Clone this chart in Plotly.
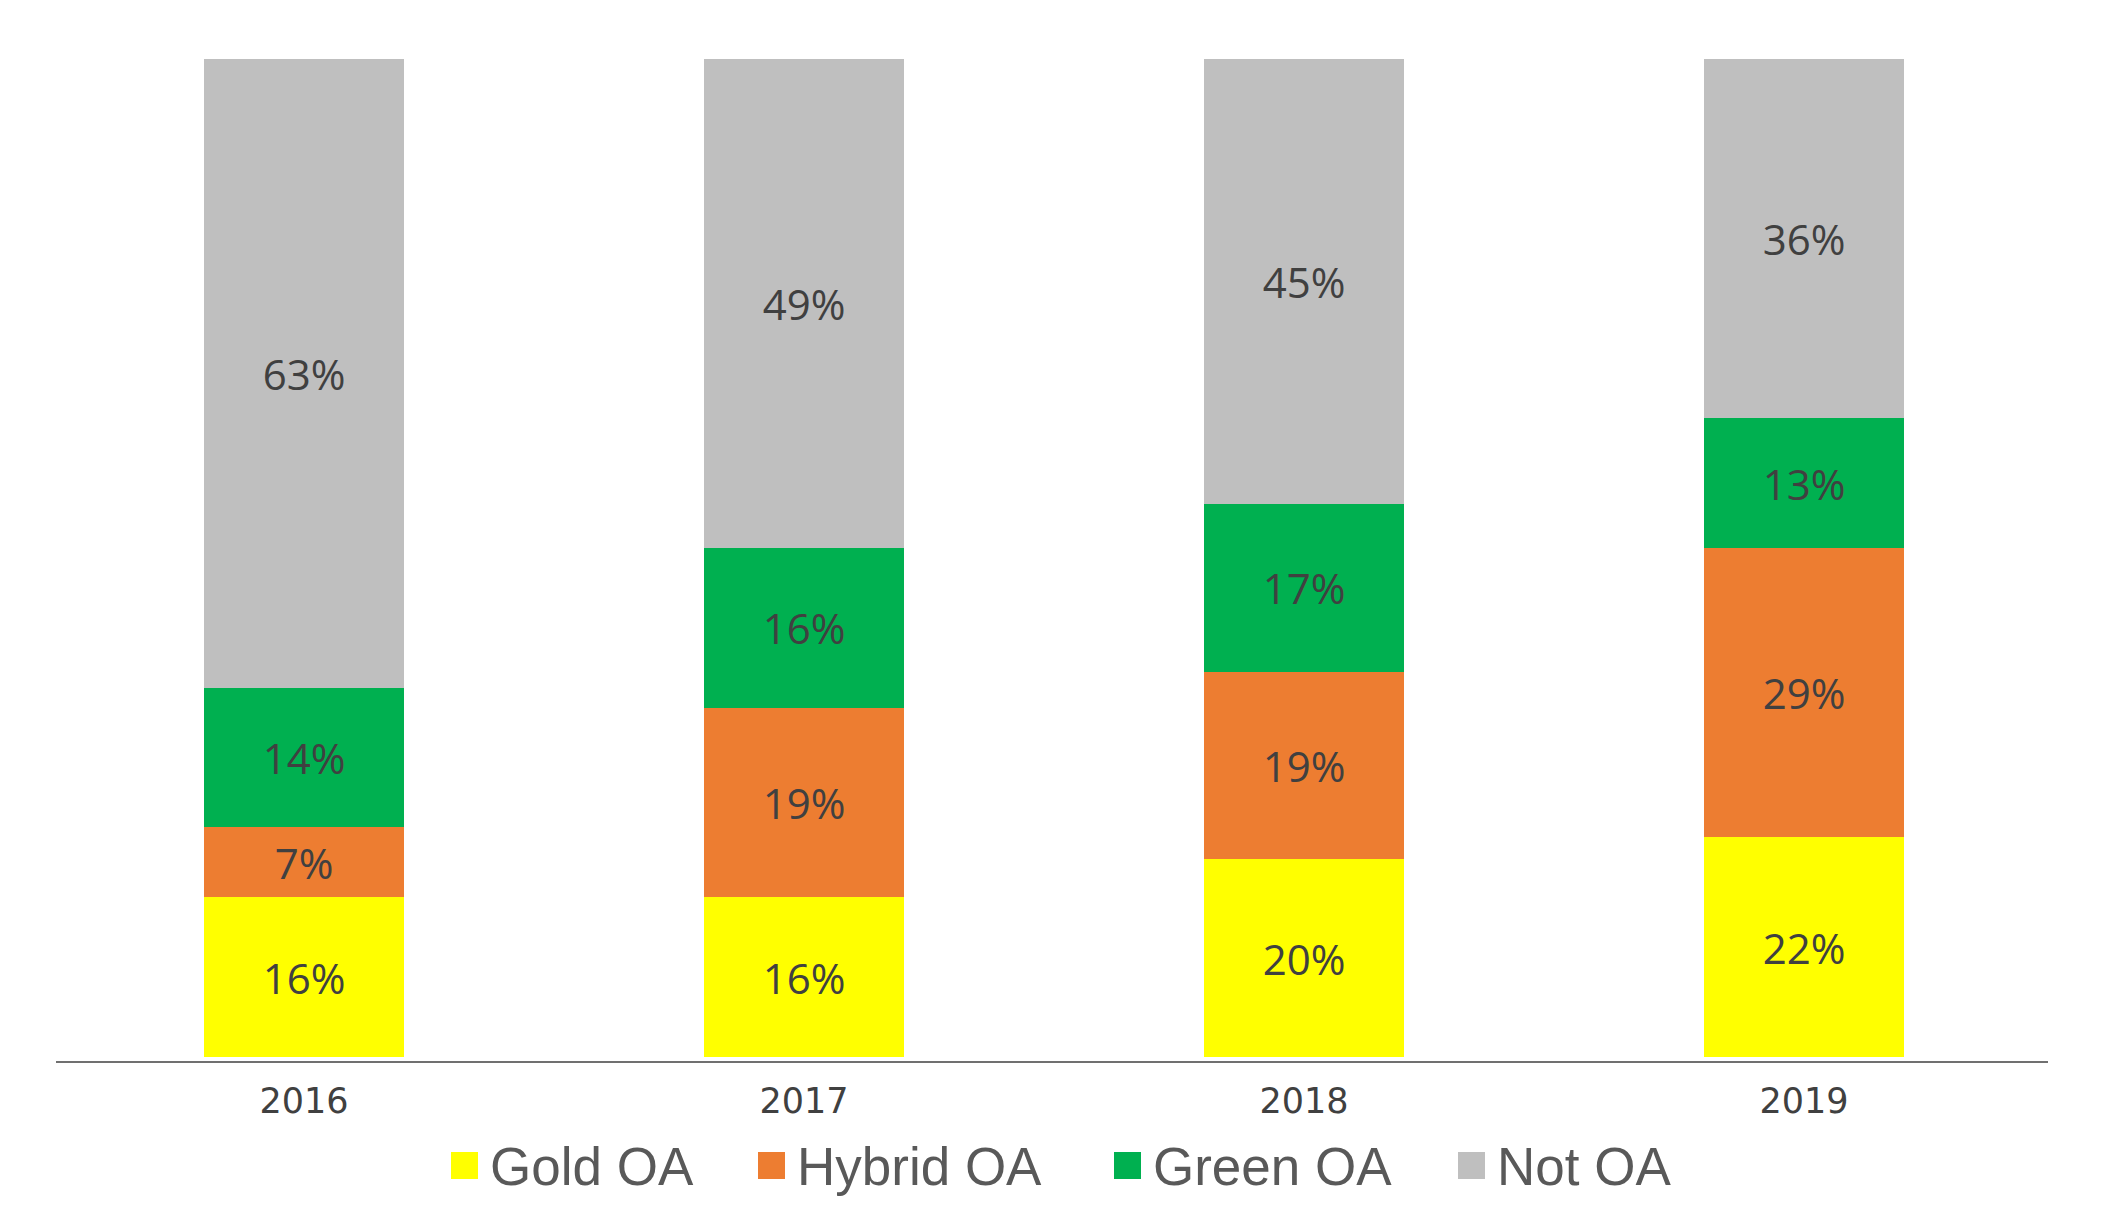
import plotly.graph_objects as go

years = ["2016", "2017", "2018", "2019"]
gold_oa = [16, 16, 20, 22]
hybrid_oa = [7, 19, 19, 29]
green_oa = [14, 16, 17, 13]
not_oa = [63, 49, 45, 36]

series_names = ["Gold OA", "Hybrid OA", "Green OA", "Not OA"]
series_values = [gold_oa, hybrid_oa, green_oa, not_oa]
series_colors = ["#FFFF00", "#ED7D31", "#00B050", "#BFBFBF"]

W, H = 2104, 1225
L, R, T, B = 54, 50, 59, 163
PW, PH = W - L - R, H - T - B

fig = go.Figure()
for name, vals, color in zip(series_names, series_values, series_colors):
    fig.add_trace(go.Bar(
        name=name, x=years, y=vals, text=vals,
        texttemplate="%{text}%", textposition="inside",
        insidetextanchor="middle",
        textfont=dict(family="Open Sans, DejaVu Sans", size=42, color="#404040"),
        marker=dict(color=color, line=dict(width=0)),
        showlegend=False,
    ))

# custom legend (larger swatches like the original)
def px_x(px):
    return (px - L) / PW

def px_y(py):
    return (H - B - py) / PH

legend_swatch_left = [451, 758, 1114, 1458]
shapes = []
annotations = []
for name, color, sx in zip(series_names, series_colors, legend_swatch_left):
    shapes.append(dict(type="rect", xref="paper", yref="paper",
                       x0=px_x(sx), x1=px_x(sx + 27), y0=px_y(1179), y1=px_y(1152),
                       fillcolor=color, line=dict(width=0)))
    annotations.append(dict(text=name, xref="paper", yref="paper",
                            x=px_x(sx + 37), y=px_y(1166), xanchor="left", yanchor="middle",
                            showarrow=False,
                            font=dict(family="Liberation Sans", size=53, color="#595959")))
# axis baseline
shapes.append(dict(type="line", xref="paper", yref="paper",
                   x0=px_x(56), x1=px_x(2048), y0=0, y1=0,
                   line=dict(color="#404040", width=1.6)))

fig.update_layout(
    barmode="stack", barnorm="percent", bargap=0.6,
    width=W, height=H,
    margin=dict(l=L, r=R, t=T, b=B),
    plot_bgcolor="white", paper_bgcolor="white",
    showlegend=False,
    shapes=shapes, annotations=annotations,
)
fig.update_xaxes(showline=False, ticks="",
                 tickfont=dict(family="DejaVu Sans", size=35, color="#404040"),
                 ticklabelstandoff=15, showgrid=False, zeroline=False)
fig.update_yaxes(visible=False, range=[-0.5, 100], showgrid=False)

fig.write_html("out.html")
